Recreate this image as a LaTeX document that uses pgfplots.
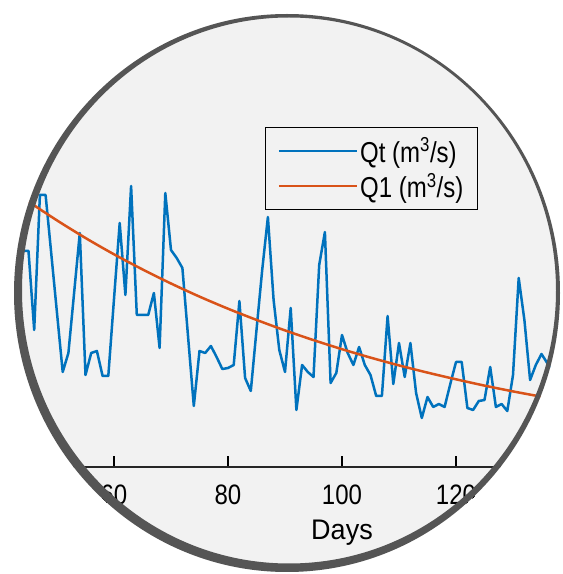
\documentclass[border=0pt]{standalone}
\usepackage{fontspec}
\setmainfont{Liberation Sans}
\usepackage{pgfplots}
\usepackage{pgfplotstable}
\pgfplotsset{compat=1.18}
\definecolor{mblue}{RGB}{0,114,189}
\definecolor{morange}{RGB}{217,83,25}
\definecolor{paper}{RGB}{242,242,242}
\definecolor{rim}{RGB}{85,85,85}

\pgfplotstableread{
day Qt
43 16.7
44 21.6
45 21.6
46 13.7
47 27.2
48 27.2
49 21.3
50 15.4
51 9.5
52 11.4
53 17.4
54 23.4
55 9.2
56 11.4
57 11.6
58 9.1
59 9.1
60 16.8
61 24.4
62 17.2
63 28.1
64 15.2
65 15.2
66 15.2
67 17.4
68 11.9
69 27.4
70 21.7
71 20.9
72 19.9
73 13.0
74 6.1
75 11.6
76 11.4
77 12.1
78 11.0
79 9.8
80 9.9
81 10.2
82 16.6
83 8.9
84 7.6
85 13.7
86 19.7
87 25.0
88 16.7
89 11.7
90 9.5
91 15.9
92 5.7
93 10.2
94 9.5
95 9.0
96 20.2
97 23.5
98 8.4
99 9.4
100 13.2
101 11.4
102 10.2
103 12.0
104 10.2
105 9.2
106 7.1
107 7.1
108 15.1
109 8.3
110 12.4
111 9.0
112 12.4
113 7.4
114 4.9
115 7.0
116 6.0
117 6.3
118 6.0
119 8.3
120 10.5
121 10.5
122 5.9
123 5.7
124 6.6
125 6.7
126 10.0
127 6.0
128 6.3
129 5.6
130 9.2
131 18.9
132 14.7
133 8.7
134 10.2
135 11.3
136 10.4
137 9.5
138 8.6
139 7.7
}\qtdata

\pgfplotstableread{
day Q1
40 28.58
45 26.55
50 24.66
55 22.90
60 21.27
65 19.76
70 18.35
75 17.04
80 15.83
85 14.71
90 13.66
95 12.69
100 11.78
105 10.94
110 10.16
115 9.44
120 8.77
125 8.14
130 7.56
135 7.03
140 6.53
}\qonedata

\begin{document}
\begin{tikzpicture}[x=1pt,y=1pt]
\useasboundingbox (0,0) rectangle (563,574);
\fill[white] (0,0) rectangle (563,574);
\begin{scope}
\clip (287,281) ellipse [x radius=273, y radius=279];
\fill[paper] (0,0) rectangle (563,574);
\begin{axis}[
  at={(0pt,107pt)}, anchor=south west,
  scale only axis, width=570pt, height=453pt,
  xmin=40, xmax=140, ymin=0, ymax=45.3,
  axis x line*=bottom, axis y line=none,
  xtick={60,80,100,120},
  tick align=inside,
  major tick length=11pt,
  every tick/.style={black, line width=1.5pt},
  axis line style={black!85, line width=2pt},
  /pgf/number format/assume math mode=true,
  xticklabel={\scalebox{1}[1.17]{\pgfmathprintnumber{\tick}}},
  xticklabel style={font=\fontsize{24}{24}\selectfont, inner sep=0pt, anchor=north, yshift=-18pt},
  xlabel={\scalebox{1}[1.05]{Days}},
  xlabel style={font=\fontsize{27}{27}\selectfont, inner sep=0pt, at={(rel axis cs:0.6,0)}, anchor=north, yshift=-53pt},
  legend style={at={(rel axis cs:0.465,0.7506)}, anchor=north west, draw=black, line width=1.3pt,
    fill=none, font=\fontsize{24}{26}\selectfont, inner xsep=12pt, inner ysep=8pt,
    nodes={inner sep=2pt}, row sep=5pt,
    /tikz/every even column/.append style={column sep=6pt}},
  legend cell align=left,
  legend image code/.code={\draw[#1] (0pt,0pt) -- (78pt,0pt);},
]
\addplot[mblue, line width=2.5pt, line join=round] table[x=day, y=Qt] {\qtdata};
\addlegendentry{\scalebox{1}[1.2]{Qt (m\textsuperscript{3}/s)}}
\addplot[morange, line width=2.5pt, smooth] table[x=day, y=Q1] {\qonedata};
\addlegendentry{\scalebox{1}[1.2]{Q1 (m\textsuperscript{3}/s)}}
\end{axis}
\end{scope}
\fill[rim, even odd rule] (287,281) ellipse [x radius=273, y radius=279]
  (289,283.5) ellipse [x radius=267, y radius=273];
\end{tikzpicture}
\end{document}
